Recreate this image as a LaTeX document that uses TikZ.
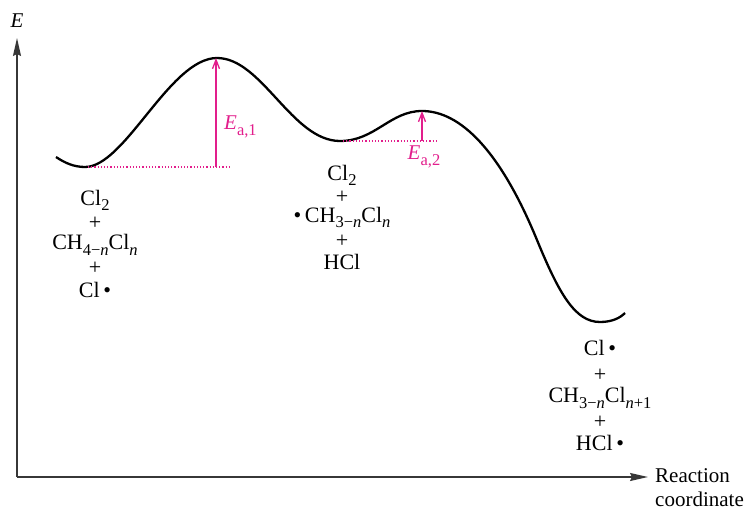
\documentclass[tikz,border=0pt]{standalone}
\usepackage{fontspec}
\setmainfont{Liberation Serif}
\usetikzlibrary{arrows.meta}
\definecolor{mag}{RGB}{226,30,140}
\definecolor{axisgray}{RGB}{55,55,55}
\newcommand\sbs[1]{\raisebox{-0.27em}{\fontsize{16.5}{16.5}\selectfont #1}}
\tikzset{
  axisline/.style={draw=axisgray, line width=1.6pt, -{Stealth[length=18pt,width=8pt,inset=2pt]}},
  curve/.style={draw=black, line width=2.3pt},
  eaarrow/.style={draw=mag, line width=1.3pt, -{Straight Barb[length=9pt,width=7pt]}},
  dotline/.style={draw=mag, line width=1.2pt, dotted},
  species/.style={anchor=base, inner sep=0pt, font=\fontsize{22}{22.8}\selectfont},
  lbl/.style={inner sep=0pt, font=\fontsize{21}{24}\selectfont},
  ealbl/.style={inner sep=0pt, text=mag, font=\fontsize{21}{22}\selectfont}
}
\begin{document}
\begin{tikzpicture}[x=1pt,y=-1pt]
\useasboundingbox (0,0) rectangle (753,511);
% axes
\coordinate (O) at (17,477);
\coordinate (ytip) at (17,38);
\coordinate (xtip) at (648,477);
\draw[axisline] (O) -- (ytip);
\draw[axisline] (O) -- (xtip);
\node[lbl] (Elab) at (17,21) {\textit{E}};
\node[lbl, anchor=west, align=left] (rc) at (655,488) {Reaction\\coordinate};
% energy curve
\coordinate (s) at (56,157);
\coordinate (m1) at (85,167);
\coordinate (t1) at (217,58);
\coordinate (m2) at (340,141);
\coordinate (t2) at (422,111);
\coordinate (q) at (537,240);
\coordinate (m3) at (600,322);
\coordinate (e) at (625,313);
\draw[curve] (s) .. controls (65,163) and (74,167) .. (m1)
  .. controls (125,167) and (170,58) .. (t1)
  .. controls (262,58) and (292,141) .. (m2)
  .. controls (375,141) and (390,111) .. (t2)
  .. controls (460,111) and (500,150) .. (q)
  .. controls (559,293.5) and (575,322) .. (m3)
  .. controls (612,322) and (620,318) .. (e);
% activation energies
\coordinate (d1s) at (88,167);
\coordinate (d1e) at (230,167);
\coordinate (a1b) at (216,167);
\coordinate (a1t) at (216,58);
\draw[dotline] (d1s) -- (d1e);
\draw[eaarrow] (a1b) -- (a1t);
\node[ealbl, anchor=west] (ea1) at (224,127) {\textit{E}\sbs{a,1}};
\coordinate (d2s) at (343,141);
\coordinate (d2e) at (436,141);
\coordinate (a2b) at (422,141);
\coordinate (a2t) at (422,111);
\draw[dotline] (d2s) -- (d2e);
\draw[eaarrow] (a2b) -- (a2t);
\node[ealbl] (ea2) at (424,157) {\textit{E}\sbs{a,2}};
% species: reactants
\node[species] (r1) at (95,205) {Cl\sbs{2}};
\node[species] (r2) at (95,229) {+};
\node[species] (r3) at (95,249.5) {CH\sbs{4−\textit{n}}Cl\sbs{\textit{n}}};
\node[species] (r4) at (95,274.5) {+};
\node[species] (r5) at (95,297) {Cl\,\textbullet};
% species: intermediate
\node[species] (i1) at (342,180) {Cl\sbs{2}};
\node[species] (i2) at (342,203) {+};
\node[species] (i3) at (342,222) {\textbullet\,CH\sbs{3−\textit{n}}Cl\sbs{\textit{n}}};
\node[species] (i4) at (342,247) {+};
\node[species] (i5) at (342,269) {HCl};
% species: products
\node[species] (p1) at (600,355) {Cl\,\textbullet};
\node[species] (p2) at (600,381) {+};
\node[species] (p3) at (600,402.5) {CH\sbs{3−\textit{n}}Cl\sbs{\textit{n}+1}};
\node[species] (p4) at (600,428.5) {+};
\node[species] (p5) at (600,450.5) {HCl\,\textbullet};
\end{tikzpicture}
\end{document}
